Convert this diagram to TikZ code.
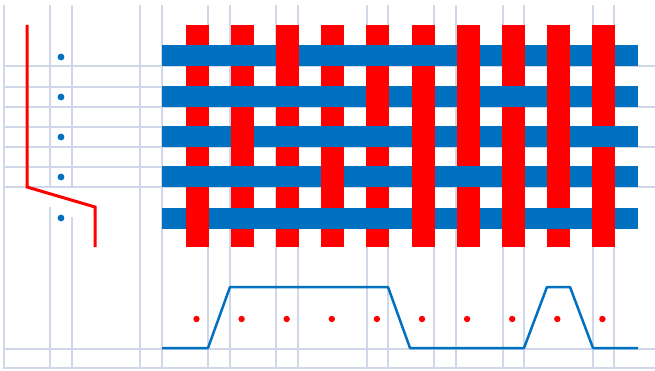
\documentclass[tikz,border=0pt]{standalone}
\usepackage{tikz}
\usetikzlibrary{positioning}

\definecolor{weftblue}{RGB}{0,112,192}
\definecolor{gridgray}{RGB}{208,215,232}

\begin{document}
\begin{tikzpicture}[
  x=1pt, y=-1pt,
  grid/.style={gridgray, line width=1.5pt},
  weft/.style={fill=weftblue},
  warp/.style={fill=red},
  trace/.style={weftblue, line width=2.5pt, line join=round},
  profile/.style={red, line width=3pt},
  pick/.style={fill=weftblue},
  dent/.style={fill=red},
]
  \fill[white] (0,0) rectangle (655,371);
  \useasboundingbox (0,0) rectangle (655,371);

  % Grid
  \foreach \x in {4,140,162,208,230,276,298,367,388,434,456,503,524,593,614}
    \draw[grid] (\x,5) -- (\x,369);
  \foreach \x/\g in {50/207, 72/217} {
    \draw[grid] (\x,5) -- (\x,187);
    \draw[grid] (\x,\g) -- (\x,369);
  }
  \foreach \y in {66,107,147,187,349,368}
    \draw[grid] (4,\y) -- (655,\y);
  \foreach \y in {87,127,167}
    \draw[grid] (4,\y) -- (162,\y);

  % Warp threads (red) and weft threads (blue)
  \foreach \i in {0,...,9}
    \fill[warp] ({186+45.1*\i},25) rectangle +(23,222);
  \foreach \y in {45,86,126,166,208}
    \fill[weft] (162,\y) rectangle (638,\y+21);

  % Warp on top at these crossings
  \foreach \r/\ws in {45/{3,7,8,9,10}, 86/{5,6,7,9,10}, 126/{2,6,7,8,9},
                      166/{4,6,8,9,10}, 208/{1,6,7,8,10}} {
    \foreach \w in \ws
      \fill[warp] ({186+45.1*(\w-1)},\r) rectangle +(23,21);
  }

  % Left profile
  \draw[profile] (27,25) -- (27,187) -- (95,207) -- (95,247);
  \foreach \y in {57,97,137,177,218}
    \fill[pick] (61,\y) circle (3.4);

  % Bottom trace
  \draw[trace] (162,348) -- (208,348) -- (230,287) -- (388,287) -- (410,348)
    -- (524,348) -- (547,287) -- (570,287) -- (593,348) -- (638,348);
  \foreach \i in {0,...,9}
    \fill[dent] ({196.5+45.1*\i},319) circle (3.2);
\end{tikzpicture}
\end{document}
